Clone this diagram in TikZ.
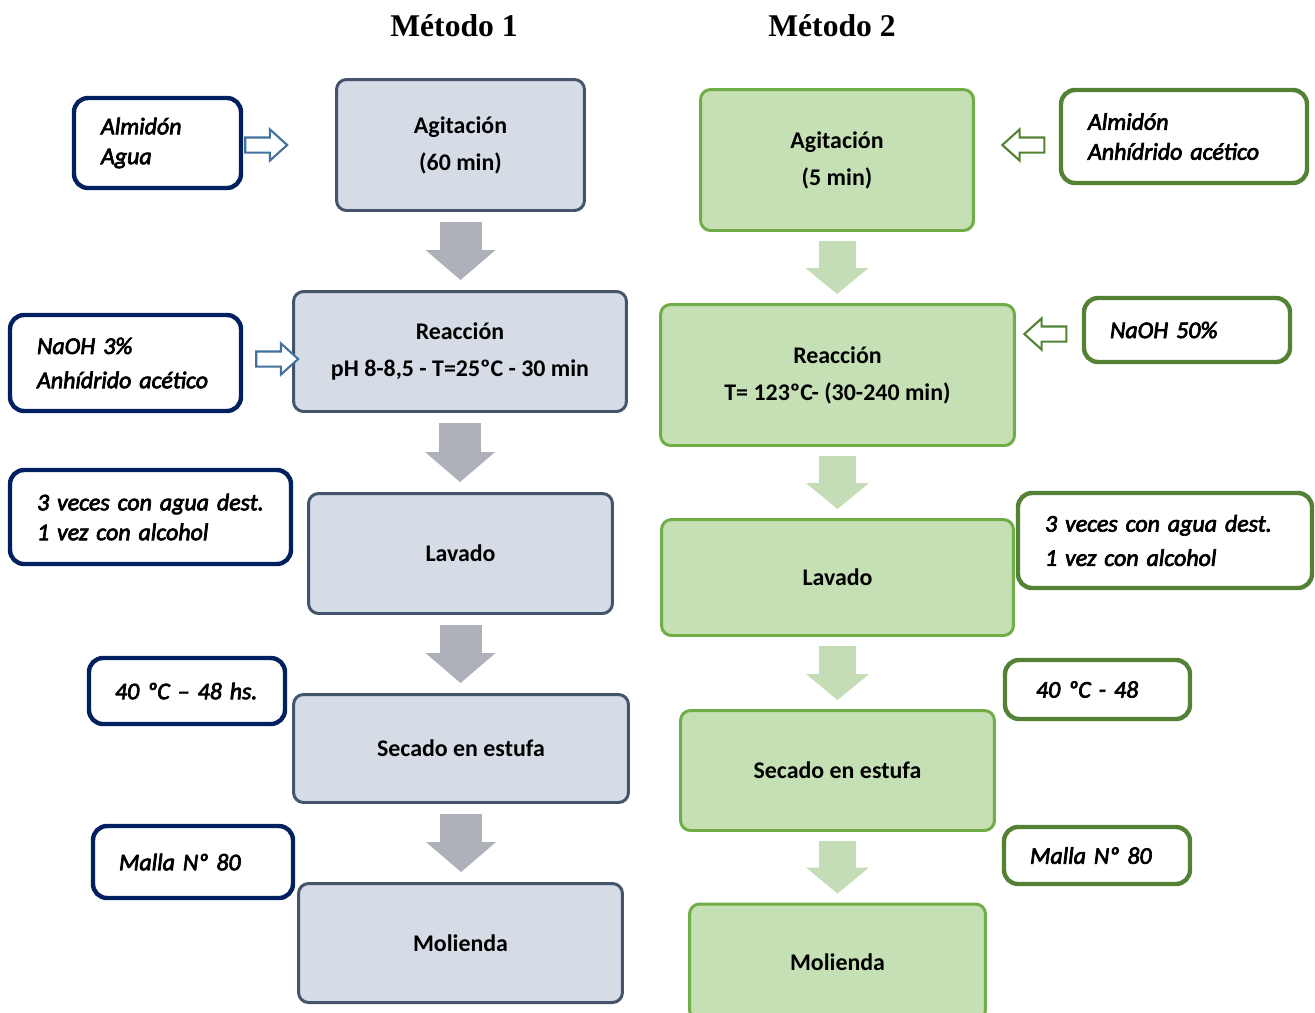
\documentclass[tikz,border=0pt]{standalone}
\usepackage{fontspec}
\setmainfont{Carlito}
\newfontfamily\sidefont{Carlito}[ItalicFeatures={FakeBold=3}]
\newfontfamily\titlefont{Liberation Serif}
\usetikzlibrary{positioning, shapes.arrows, arrows.meta}

\definecolor{fillblue}{HTML}{D6DCE5}
\definecolor{lineblue}{HTML}{44546A}
\definecolor{arrgray}{HTML}{AEB1B9}
\definecolor{fillgreen}{HTML}{C5E0B4}
\definecolor{linegreen}{HTML}{70AD47}
\definecolor{arrgreen}{HTML}{C5DDB6}
\definecolor{navy}{HTML}{002060}
\definecolor{darkgreen}{HTML}{548235}
\definecolor{holblue}{HTML}{41719C}

\tikzset{
  main1/.style={draw=lineblue, fill=fillblue, line width=1.7pt, rounded corners=0.2cm,
    align=center, font=\bfseries\fontsize{13.6}{21}\selectfont},
  main2/.style={main1, draw=linegreen, fill=fillgreen},
  side1/.style={draw=navy, fill=white, line width=2.5pt, rounded corners=0.28cm,
    align=left, inner xsep=0.1cm, inner ysep=0pt, execute at begin node={\leftskip=#1},
    font=\sidefont\itshape\fontsize{13.6}{17}\selectfont},
  side2/.style={side1=#1, draw=darkgreen},
  down1/.style={draw=arrgray, line width=0.84cm, -{Triangle[length=0.6cm, width=1.4cm, line width=0pt]},
    shorten <=0.2cm, shorten >=0.2cm},
  down2/.style={down1, draw=arrgreen, line width=0.74cm, -{Triangle[length=0.52cm, width=1.26cm, line width=0pt]},
    shorten <=0.18cm, shorten >=0.18cm},
  hollow1/.style={single arrow, draw=holblue, fill=white, line width=1.2pt, inner xsep=0pt, inner ysep=0.13cm,
    minimum height=0.84cm, single arrow head extend=0.16cm, single arrow tip angle=84},
  hollow2/.style={hollow1, draw=darkgreen, shape border rotate=180},
  title/.style={font=\titlefont\bfseries\fontsize{18}{22}\selectfont}
}

\begin{document}
\begin{tikzpicture}[x=0.02cm, y=-0.02cm]
\useasboundingbox (0,0) rectangle (1315,1012);

\node[title] (t1) at (454,26) {Método 1};
\node[title] (t2) at (832,26) {Método 2};

% metodo 1
\node[main1, minimum width=4.96cm, minimum height=2.62cm] (ag1) at (460.5,145) {Agitación\\(60 min)};
\node[main1, minimum width=6.66cm, minimum height=2.40cm] (re1) at (460,351.5) {Reacción\\pH 8-8,5 - T=25ºC - 30 min};
\node[main1, minimum width=6.08cm, minimum height=2.40cm] (la1) at (460.5,553.5) {Lavado};
\node[main1, minimum width=6.70cm, minimum height=2.16cm] (se1) at (461,748.5) {Secado en estufa};
\node[main1, minimum width=6.48cm, minimum height=2.38cm] (mo1) at (460.5,943) {Molienda};

\node[side1=0.44cm, minimum height=1.80cm, text width=3.14cm] (s1a) at (157.5,143) {Almidón\\Agua};
\node[side1=0.44cm, minimum height=1.92cm, text width=4.42cm] (s1b) at (125.5,363) {NaOH 3\%\\[2.5pt]Anhídrido acético};
\node[side1=0.44cm, minimum height=1.88cm, text width=5.42cm] (s1c) at (150.5,517) {3 veces con agua dest.\\1 vez con alcohol};
\node[side1=0.42cm, minimum height=1.32cm, text width=3.72cm] (s1d) at (187,691) {40 ºC – 48 hs.};
\node[side1=0.42cm, minimum height=1.44cm, text width=3.80cm] (s1e) at (193,862) {Malla Nº 80};

\node[hollow1] (h1a) at (262,145) {};
\node[hollow1] (h1b) at (273,359) {};

\draw[down1] (ag1.south) -- (ag1.south |- re1.north);
\draw[down1] (re1.south) -- (re1.south |- la1.north);
\draw[down1] (la1.south) -- (la1.south |- se1.north);
\draw[down1] (se1.south) -- (se1.south |- mo1.north);

% metodo 2
\node[main2, minimum width=5.46cm, minimum height=2.82cm] (ag2) at (837,160) {Agitación\\(5 min)};
\node[main2, minimum width=7.08cm, minimum height=2.82cm] (re2) at (837.5,375) {Reacción\\T= 123ºC- (30-240 min)};
\node[main2, minimum width=7.04cm, minimum height=2.32cm] (la2) at (837.5,577.5) {Lavado};
\node[main2, minimum width=6.28cm, minimum height=2.40cm] (se2) at (837.5,770.5) {Secado en estufa};
\node[main2, minimum width=5.92cm, minimum height=2.32cm] (mo2) at (837.5,962) {Molienda};

\node[side2=0.44cm, minimum height=1.86cm, text width=4.72cm] (s2a) at (1184,136.5) {Almidón\\Anhídrido acético};
\node[side2=0.42cm, minimum height=1.28cm, text width=3.92cm] (s2b) at (1187,330) {NaOH 50\%};
\node[side2=0.44cm, minimum height=1.90cm, text width=5.68cm] (s2c) at (1165,540.5) {3 veces con agua dest.\\[2.5pt]1 vez con alcohol};
\node[side2=0.52cm, minimum height=1.18cm, text width=3.50cm] (s2d) at (1097.5,689.5) {40 ºC - 48};
\node[side2=0.42cm, minimum height=1.14cm, text width=3.52cm] (s2e) at (1097,855.5) {Malla Nº 80};

\node[hollow2] (h2a) at (1027.5,145) {};
\node[hollow2] (h2b) at (1049.5,334) {};

\draw[down2] (ag2.south) -- (ag2.south |- re2.north);
\draw[down2] (re2.south) -- (re2.south |- la2.north);
\draw[down2] (la2.south) -- (la2.south |- se2.north);
\draw[down2] (se2.south) -- (se2.south |- mo2.north);

\end{tikzpicture}
\end{document}
